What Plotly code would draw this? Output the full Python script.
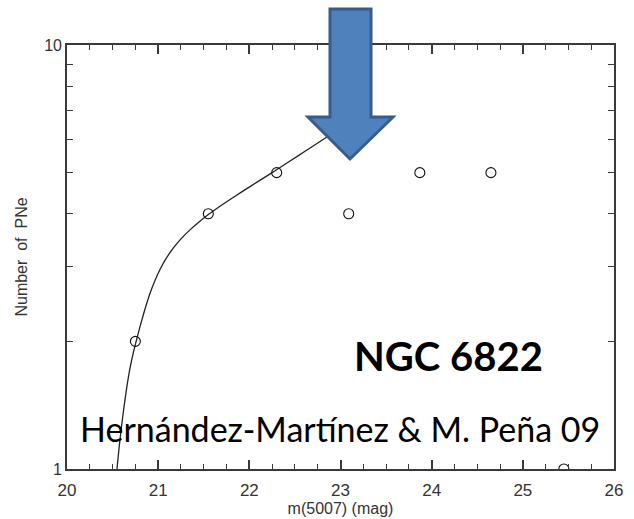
import plotly.graph_objects as go

# Data points (observed PNe counts per magnitude bin)
mag = [20.75, 21.55, 22.30, 23.09, 23.87, 24.65, 25.45]
counts = [2, 4, 5, 4, 5, 5, 1]

# Fitted PNLF curve
curve_m = [20.548, 20.570, 20.592, 20.625, 20.658, 20.691, 20.735, 20.801, 20.856,
           20.910, 20.965, 21.020, 21.086, 21.163, 21.250, 21.349, 21.448, 21.547,
           21.678, 21.843, 22.007, 22.172, 22.303, 22.446, 22.611, 22.830, 23.049]
curve_n = [1.000, 1.115, 1.229, 1.400, 1.570, 1.730, 1.909, 2.167, 2.385,
           2.594, 2.784, 2.954, 3.133, 3.312, 3.489, 3.664, 3.824, 3.977,
           4.167, 4.400, 4.635, 4.880, 5.086, 5.326, 5.614, 6.026, 6.466]

x_ticks = [20, 21, 22, 23, 24, 25, 26]
y_ticks = [1, 10]
y_minor = [2, 3, 4, 5, 6, 7, 8, 9]

AX_FONT = "Liberation Sans, Arial, sans-serif"
AX_COLOR = "#333333"

fig = go.Figure()
fig.add_trace(go.Scatter(x=curve_m, y=curve_n, mode="lines",
                         line=dict(color="#222222", width=1.3, shape="spline", smoothing=0.6),
                         hoverinfo="skip", showlegend=False))
fig.add_trace(go.Scatter(x=mag, y=counts, mode="markers",
                         marker=dict(symbol="circle-open", size=10,
                                     color="#111111", line=dict(width=1.1)),
                         showlegend=False))

L, R, T, B = 67, 20, 45, 50
W, H = 634, 519
pw, ph = W - L - R, H - T - B


def px(x):
    return (x - L) / pw


def py(y):
    return (H - B - y) / ph


# Block arrow (annotation graphic) in pixel geometry
pts = [(330, 9), (371, 9), (371, 117), (393, 117), (350, 159), (308, 117), (330, 117)]
path = "M " + " L ".join(f"{px(a):.5f},{py(b):.5f}" for a, b in pts) + " Z"
fig.add_shape(type="path", path=path, xref="paper", yref="paper",
              fillcolor="#4F81BD", line=dict(color="#385D8A", width=3), layer="above")

axis_common = dict(showline=True, linecolor="#3a3a3a", linewidth=1.6, mirror="ticks",
                   ticks="inside", tickcolor="#3a3a3a", showgrid=False, zeroline=False,
                   automargin=False)

fig.update_xaxes(range=[20, 26], tickvals=x_ticks, ticktext=[str(v) for v in x_ticks],
                 ticklen=9, tickwidth=1.5, ticklabelstandoff=5,
                 tickfont=dict(family=AX_FONT, size=17, color=AX_COLOR),
                 minor=dict(ticks="inside", dtick=0.25, tick0=20, ticklen=5,
                            tickwidth=1.3, tickcolor="#3a3a3a", showgrid=False),
                 title=dict(text="m(5007) (mag)", standoff=1,
                            font=dict(family=AX_FONT, size=16, color=AX_COLOR)),
                 **axis_common)
fig.update_yaxes(type="log", range=[0, 1], tickvals=y_ticks, ticktext=["1", "10"],
                 ticklen=9, tickwidth=1.5,
                 tickfont=dict(family=AX_FONT, size=16, color=AX_COLOR),
                 minor=dict(ticks="inside", tickmode="array", tickvals=y_minor, ticklen=6,
                            tickwidth=1.3, tickcolor="#3a3a3a", showgrid=False),
                 title=dict(text="Number  of  PNe", standoff=13,
                            font=dict(family=AX_FONT, size=16, color=AX_COLOR)),
                 **axis_common)

fig.add_annotation(text="<b>NGC 6822</b>", xref="paper", yref="paper",
                   x=px(448), y=py(356), xanchor="center", yanchor="middle", showarrow=False,
                   font=dict(family="Lato, Open Sans", size=40, color="#000000"))
fig.add_annotation(text="Hernández-Martínez & M. Peña 09", xref="paper", yref="paper",
                   x=px(340), y=py(428), xanchor="center", yanchor="middle", showarrow=False,
                   font=dict(family="Lato, Open Sans", size=34, color="#000000"))

fig.update_layout(width=W, height=H, margin=dict(l=L, r=R, t=T, b=B),
                  paper_bgcolor="white", plot_bgcolor="white")

fig.write_html("out.html")
